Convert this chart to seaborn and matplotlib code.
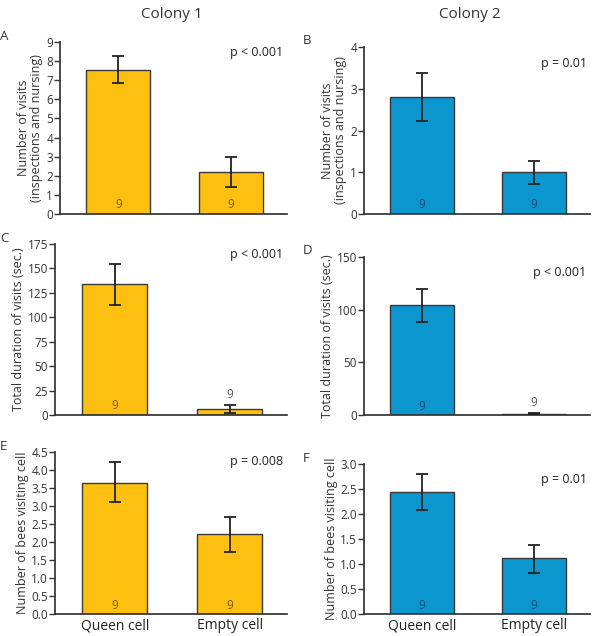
import numpy as np
import pandas as pd
import seaborn as sns
import matplotlib.pyplot as plt

sns.set_theme(style='ticks')
plt.rcParams['font.family'] = ['Open Sans', 'DejaVu Sans']

cells = ['Queen cell', 'Empty cell']

# colony 1 (yellow) / colony 2 (blue); mean with lower/upper error bar ends
visits_c1 = [7.55, 2.22]
visits_c1_lo = [6.85, 1.42]
visits_c1_hi = [8.25, 3.00]
visits_c2 = [2.80, 1.00]
visits_c2_lo = [2.23, 0.72]
visits_c2_hi = [3.37, 1.27]

dur_c1 = [134, 6]
dur_c1_lo = [113, 2]
dur_c1_hi = [155, 10]
dur_c2 = [104, 1.2]
dur_c2_lo = [88, 0.6]
dur_c2_hi = [120, 1.8]

bees_c1 = [3.65, 2.22]
bees_c1_lo = [3.10, 1.72]
bees_c1_hi = [4.22, 2.70]
bees_c2 = [2.45, 1.12]
bees_c2_lo = [2.08, 0.83]
bees_c2_hi = [2.80, 1.38]

n_bees = [9, 9]
pvals = ['p < 0.001', 'p = 0.01', 'p < 0.001', 'p < 0.001', 'p = 0.008', 'p = 0.01']
letters = ['A', 'B', 'C', 'D', 'E', 'F']

yellow = '#FDC010'
blue = '#0C96CE'

panels = [
    (visits_c1, visits_c1_lo, visits_c1_hi, yellow, 'Number of visits\n(inspections and nursing)', np.arange(0, 10, 1)),
    (visits_c2, visits_c2_lo, visits_c2_hi, blue, 'Number of visits\n(inspections and nursing)', np.arange(0, 5, 1)),
    (dur_c1, dur_c1_lo, dur_c1_hi, yellow, 'Total duration of visits (sec.)', np.arange(0, 176, 25)),
    (dur_c2, dur_c2_lo, dur_c2_hi, blue, 'Total duration of visits (sec.)', np.arange(0, 151, 50)),
    (bees_c1, bees_c1_lo, bees_c1_hi, yellow, 'Number of bees visiting cell', np.arange(0, 4.6, 0.5)),
    (bees_c2, bees_c2_lo, bees_c2_hi, blue, 'Number of bees visiting cell', np.arange(0, 3.1, 0.5)),
]

W, H = 606, 636
# axes boxes in pixels: left, right, top, bottom
boxes = [(60, 287, 42, 214), (364, 590, 47, 214),
         (55, 287, 244, 415), (364, 590, 257, 415),
         (55, 287, 452, 614), (364, 590, 464, 614)]

fig = plt.figure(figsize=(W / 100, H / 100), dpi=100)

for i, ((vals, lo, hi, color, ylabel, ticks), (l, r, t, b)) in enumerate(zip(panels, boxes)):
    ax = fig.add_axes([l / W, 1 - b / H, (r - l) / W, (b - t) / H])
    df = pd.DataFrame({'cell': cells, 'value': vals})
    sns.barplot(data=df, x='cell', y='value', ax=ax, color=color, width=0.57,
                edgecolor='#3a3a3a', linewidth=1.0, saturation=1)
    vals_a = np.array(vals, dtype=float)
    yerr = [vals_a - np.array(lo), np.array(hi) - vals_a]
    ax.errorbar([0, 1], vals_a, yerr=yerr, fmt='none', ecolor='#222222',
                elinewidth=1.3, capsize=4, capthick=1.3, zorder=5)
    ymax = ticks[-1]
    ax.set_ylim(0, ymax)
    ax.set_xlim(-0.52, 1.5)
    ax.set_yticks(ticks)
    if ticks[1] < 1:
        ax.set_yticklabels([f'{v:.1f}' for v in ticks])
    ax.set_ylabel(ylabel, fontsize=9, color='#333333', labelpad=2, linespacing=1.05)
    ax.set_xlabel('')
    sns.despine(ax=ax)
    ax.spines['left'].set_color('#333333')
    ax.spines['bottom'].set_color('#333333')
    ax.tick_params(axis='y', labelsize=8.5, colors='#333333', length=4, width=1, pad=1)
    ax.tick_params(axis='x', length=0, labelsize=10, colors='#222222', pad=3)
    if i < 4:
        ax.set_xticklabels([])
    # sample size labels
    txtcol = '#7a5c00' if color == yellow else '#0a4f73'
    for x, (v, n) in enumerate(zip(vals, n_bees)):
        if v / ymax > 0.12:
            ax.text(x, ymax * 0.015, str(n), ha='center', va='bottom', fontsize=8.5, color=txtcol)
        else:
            ax.text(x, hi[x] + ymax * 0.025, str(n), ha='center', va='bottom', fontsize=8.5, color='#555555')
    ax.text(0.985, 0.94 if i % 2 == 0 else 0.9, pvals[i], transform=ax.transAxes,
            ha='right', va='center', fontsize=9, color='#222222')
    fig.text((0 if i % 2 == 0 else 303) / W, 1 - (t - 6) / H, letters[i],
             ha='left', va='center', fontsize=9.5, color='#333333')

fig.text(172 / W, 1 - 15 / H, 'Colony 1', ha='center', va='center', fontsize=11, color='#333333')
fig.text(470 / W, 1 - 15 / H, 'Colony 2', ha='center', va='center', fontsize=11, color='#333333')

fig.savefig('out.png', dpi=100)
